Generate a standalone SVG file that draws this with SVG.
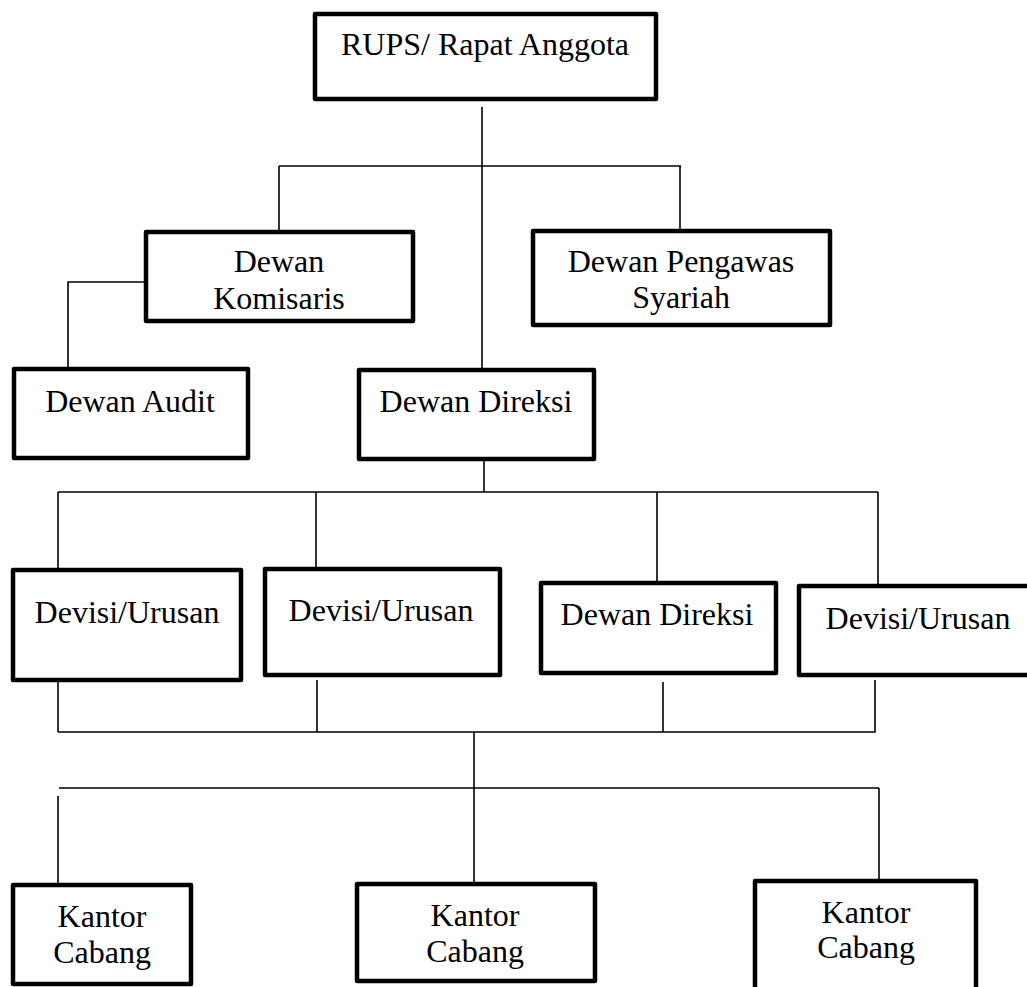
<svg xmlns="http://www.w3.org/2000/svg" width="1027" height="987" viewBox="0 0 1027 987">
<style>
.box{fill:#fff;stroke:#000;stroke-width:4.5;stroke-linejoin:round}
.t{font-family:"Liberation Serif","Times New Roman",serif;font-size:32px;fill:#000;text-anchor:middle}
.c{fill:none;stroke:#000;stroke-width:1.6}
</style>
<rect width="1027" height="987" fill="#fff"/>
<g id="connectors">
<path class="c" d="M482 107V370"/>
<path class="c" d="M279 166H681"/>
<path class="c" d="M279 166V230"/>
<path class="c" d="M680 166V229"/>
<path class="c" d="M144 282H68V367"/>
<path class="c" d="M484 461V492"/>
<path class="c" d="M58 492H878"/>
<path class="c" d="M58 492V568"/>
<path class="c" d="M316 492V567"/>
<path class="c" d="M657 492V581"/>
<path class="c" d="M878 492V584"/>
<path class="c" d="M58 682V732"/>
<path class="c" d="M317 680V732"/>
<path class="c" d="M663 682V732"/>
<path class="c" d="M875 680V732H58"/>
<path class="c" d="M474 732V882"/>
<path class="c" d="M59 788H879"/>
<path class="c" d="M58 796V883"/>
<path class="c" d="M879 788V879"/>
</g>
<g id="rups"><rect class="box" x="315" y="14" width="341" height="85"/><text class="t" x="485" y="55">RUPS/ Rapat Anggota</text></g>
<g id="komisaris"><rect class="box" x="146" y="232" width="267" height="89"/><text class="t" x="279" y="272">Dewan</text><text class="t" x="279" y="309">Komisaris</text></g>
<g id="pengawas"><rect class="box" x="533" y="231" width="297" height="94"/><text class="t" x="681" y="272">Dewan Pengawas</text><text class="t" x="681" y="308">Syariah</text></g>
<g id="audit"><rect class="box" x="14" y="369" width="234" height="89"/><text class="t" x="130" y="412">Dewan Audit</text></g>
<g id="direksi"><rect class="box" x="359" y="370" width="235" height="89"/><text class="t" x="476" y="412">Dewan Direksi</text></g>
<g id="devisi1"><rect class="box" x="13" y="570" width="228" height="110"/><text class="t" x="127" y="623">Devisi/Urusan</text></g>
<g id="devisi2"><rect class="box" x="265" y="569" width="235" height="106"/><text class="t" x="381" y="621">Devisi/Urusan</text></g>
<g id="direksi2"><rect class="box" x="541" y="583" width="235" height="90"/><text class="t" x="657" y="625">Dewan Direksi</text></g>
<g id="devisi4"><rect class="box" x="799" y="586" width="235" height="89"/><text class="t" x="918" y="629">Devisi/Urusan</text></g>
<g id="kantor1"><rect class="box" x="13" y="885" width="178" height="99"/><text class="t" x="102" y="927">Kantor</text><text class="t" x="102" y="963">Cabang</text></g>
<g id="kantor2"><rect class="box" x="357" y="884" width="238" height="97"/><text class="t" x="475" y="926">Kantor</text><text class="t" x="475" y="962">Cabang</text></g>
<g id="kantor3"><rect class="box" x="755" y="881" width="221" height="120"/><text class="t" x="866" y="923">Kantor</text><text class="t" x="866" y="958">Cabang</text></g>
</svg>
